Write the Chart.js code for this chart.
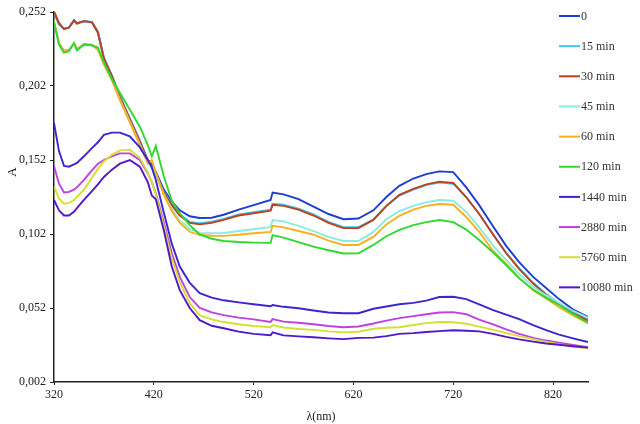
<!DOCTYPE html>
<html>
<head>
<meta charset="utf-8">
<script src="https://cdn.jsdelivr.net/npm/chart.js@4.4.0/dist/chart.umd.min.js"></script>
<style>
html,body{margin:0;padding:0;background:#fff;}
#wrap{position:relative;width:640px;height:424px;}
</style>
</head>
<body>
<div id="wrap"><canvas id="c" width="640" height="424"></canvas></div>
<script>
const wavelengths = [320,325,330,335,340,343,350,358,364,370,378,386,396,406,414,418,422,430,438,446,456,466,478,490,505,520,537,539,550,565,580,595,610,625,640,653,666,680,693,706,720,733,746,760,773,786,800,813,826,840,855];

const s0 = [0.2515,0.244,0.2405,0.2415,0.2465,0.2445,0.2458,0.2452,0.2385,0.221,0.209,0.195,0.180,0.165,0.152,0.149,0.144,0.132,0.124,0.118,0.114,0.1128,0.113,0.115,0.1185,0.1215,0.125,0.130,0.1288,0.1255,0.1205,0.1155,0.112,0.1125,0.118,0.127,0.1345,0.1395,0.1425,0.1443,0.1438,0.1335,0.1215,0.107,0.094,0.083,0.073,0.0655,0.058,0.051,0.046];
const s15 = [0.2520,0.2443,0.2405,0.2415,0.2463,0.2443,0.2458,0.2451,0.2382,0.2208,0.2088,0.1948,0.1798,0.1643,0.1512,0.1475,0.1425,0.1305,0.1222,0.1152,0.1102,0.1093,0.1103,0.1122,0.1152,0.1168,0.1185,0.1225,0.1218,0.1192,0.1152,0.1102,0.1066,0.1066,0.1118,0.1208,0.1280,0.1320,0.1350,0.1368,0.1360,0.1268,0.1155,0.1018,0.0895,0.0790,0.0692,0.0615,0.0552,0.0492,0.0445];
const s30 = [0.2525,0.2445,0.2405,0.2415,0.2462,0.2442,0.2458,0.245,0.238,0.2205,0.2085,0.1945,0.1795,0.164,0.151,0.147,0.142,0.130,0.1215,0.1145,0.1095,0.1085,0.1095,0.1115,0.1145,0.116,0.1177,0.1217,0.121,0.1185,0.1145,0.1095,0.106,0.106,0.1115,0.121,0.1285,0.1325,0.1355,0.1374,0.1365,0.127,0.1155,0.1015,0.089,0.0785,0.0685,0.0608,0.0545,0.0485,0.0435];
const s45 = [0.2455,0.231,0.2255,0.226,0.2305,0.2265,0.2295,0.2295,0.2265,0.217,0.2065,0.193,0.178,0.1625,0.150,0.147,0.1415,0.129,0.119,0.111,0.1055,0.1027,0.1025,0.1027,0.104,0.1052,0.1068,0.1115,0.1105,0.1075,0.104,0.100,0.0973,0.0973,0.1034,0.112,0.1175,0.121,0.1235,0.125,0.1245,0.117,0.1065,0.094,0.0845,0.075,0.0665,0.0605,0.0555,0.050,0.0455];
const s60 = [0.2455,0.231,0.226,0.2265,0.231,0.227,0.2305,0.230,0.2265,0.2165,0.206,0.1925,0.1775,0.162,0.1495,0.152,0.1435,0.1285,0.1175,0.1095,0.1035,0.1013,0.1008,0.1007,0.1015,0.1025,0.1034,0.1075,0.1065,0.104,0.1015,0.0975,0.0946,0.0946,0.100,0.1085,0.1143,0.1185,0.121,0.1223,0.1218,0.1135,0.1035,0.0905,0.082,0.0725,0.064,0.0585,0.0525,0.047,0.0415];
const s120 = [0.245,0.230,0.2246,0.2255,0.231,0.226,0.230,0.2295,0.228,0.218,0.2065,0.1975,0.186,0.1745,0.162,0.1545,0.1615,0.141,0.1245,0.116,0.108,0.1017,0.0988,0.0973,0.0966,0.0962,0.096,0.1013,0.0995,0.0965,0.0935,0.091,0.0888,0.089,0.0946,0.1005,0.1048,0.108,0.110,0.1115,0.110,0.105,0.098,0.0895,0.081,0.072,0.0645,0.059,0.054,0.048,0.042];
const s1440 = [0.177,0.158,0.148,0.1475,0.149,0.150,0.1545,0.160,0.164,0.169,0.1705,0.1705,0.168,0.1605,0.152,0.147,0.1385,0.1165,0.0955,0.080,0.069,0.062,0.059,0.0572,0.0558,0.0545,0.0532,0.054,0.0528,0.0518,0.0503,0.049,0.0485,0.0485,0.0515,0.053,0.0545,0.0555,0.057,0.0594,0.0596,0.058,0.0545,0.0505,0.0475,0.0445,0.0405,0.037,0.034,0.0315,0.029];
const s2880 = [0.148,0.136,0.130,0.1305,0.132,0.1335,0.1385,0.145,0.1495,0.152,0.1545,0.1565,0.1565,0.152,0.143,0.137,0.1295,0.110,0.089,0.073,0.0594,0.052,0.049,0.0472,0.0455,0.0443,0.0425,0.0445,0.0428,0.042,0.041,0.0398,0.039,0.0395,0.0415,0.0435,0.0452,0.0465,0.0478,0.049,0.0492,0.0478,0.0442,0.041,0.0375,0.0345,0.0318,0.030,0.0285,0.027,0.0255];
const s5760 = [0.134,0.126,0.1225,0.123,0.125,0.127,0.132,0.140,0.146,0.151,0.1555,0.1585,0.159,0.1535,0.1435,0.137,0.1285,0.1075,0.0855,0.0695,0.0553,0.047,0.0443,0.0425,0.041,0.0398,0.039,0.0405,0.0388,0.0378,0.0372,0.0362,0.0355,0.036,0.038,0.0387,0.039,0.0405,0.0418,0.0425,0.0424,0.0414,0.0394,0.0372,0.035,0.033,0.031,0.029,0.0275,0.026,0.0248];
const s10080 = [0.125,0.118,0.1145,0.1145,0.117,0.1195,0.125,0.131,0.1355,0.1405,0.1455,0.1495,0.152,0.1475,0.137,0.128,0.1255,0.1045,0.080,0.0641,0.052,0.0438,0.040,0.0383,0.036,0.0345,0.0336,0.0355,0.0335,0.0328,0.0322,0.0315,0.031,0.0318,0.032,0.033,0.0345,0.035,0.0358,0.0364,0.037,0.0366,0.0362,0.0345,0.0325,0.0308,0.0293,0.028,0.0272,0.0262,0.0252];

const seriesLabels = ['0','15 min','30 min','45 min','60 min','120 min','1440 min','2880 min','5760 min','10080 min'];
const seriesValues = [s0,s15,s30,s45,s60,s120,s1440,s2880,s5760,s10080];
const seriesColors = ['#1c3cd4','#40c4f0','#c0401c','#88ece0','#f8b020','#30d830','#3a26d0','#c040e0','#d4e030','#5018c8'];

const xTicks = [320,420,520,620,720,820];
const yTicks = [0.002,0.052,0.102,0.152,0.202,0.252];

const FONT = "'Liberation Serif','Times New Roman',serif";

const datasets = seriesValues.map((vals,i)=>({
  label: seriesLabels[i],
  data: wavelengths.map((w,j)=>({x:w,y:vals[j]})),
  borderColor: seriesColors[i],
  backgroundColor: seriesColors[i],
  borderWidth: 1.9,
  pointRadius: 0,
  tension: 0,
  fill: false,
  order: -i
}));

const overlayPlugin = {
  id: 'overlay',
  afterDraw(chart){
    const ctx = chart.ctx;
    ctx.save();
    ctx.font = '12px ' + FONT;
    ctx.textBaseline = 'middle';
    chart.data.datasets.forEach((ds,i)=>{
      const y = 16 + i*30.15;
      ctx.strokeStyle = ds.borderColor;
      ctx.lineWidth = 2;
      ctx.beginPath();
      ctx.moveTo(559,y);
      ctx.lineTo(580,y);
      ctx.stroke();
      ctx.fillStyle = '#333';
      ctx.textAlign = 'left';
      ctx.fillText(ds.label, 581, y+0.5);
    });
    ctx.translate(13,172);
    ctx.rotate(-Math.PI/2);
    ctx.textAlign = 'center';
    ctx.fillStyle = '#222';
    ctx.font = '13px ' + FONT;
    ctx.fillText('A',0,0);
    ctx.restore();
  }
};

new Chart(document.getElementById('c'),{
  type:'line',
  data:{datasets},
  options:{
    responsive:false,
    animation:false,
    layout:{padding:{left:0,right:52,top:12,bottom:0}},
    plugins:{legend:{display:false},tooltip:{enabled:false}},
    scales:{
      x:{
        type:'linear',
        min:320,max:855,
        afterBuildTicks(s){ s.ticks = xTicks.map(v=>({value:v})); },
        afterFit(s){ s.height = 42; },
        ticks:{font:{family:FONT,size:12},color:'#222',maxRotation:0,padding:3,callback:v=>String(v)},
        grid:{drawOnChartArea:false,drawTicks:true,tickLength:3,color:'#222'},
        border:{display:true,color:'#222',width:1.5},
        title:{display:true,text:'λ(nm)',font:{family:FONT,size:12},color:'#222',padding:{top:2,bottom:0}}
      },
      y:{
        type:'linear',
        min:0.002,max:0.252,
        afterBuildTicks(s){ s.ticks = yTicks.map(v=>({value:v})); },
        afterFit(s){ s.width = 54; },
        ticks:{font:{family:FONT,size:12},color:'#222',padding:4,callback:v=>v.toFixed(3).replace('.',',')},
        grid:{drawOnChartArea:false,drawTicks:true,tickLength:4,color:'#222'},
        border:{display:true,color:'#222',width:1.5}
      }
    }
  },
  plugins:[overlayPlugin]
});
</script>
</body>
</html>
